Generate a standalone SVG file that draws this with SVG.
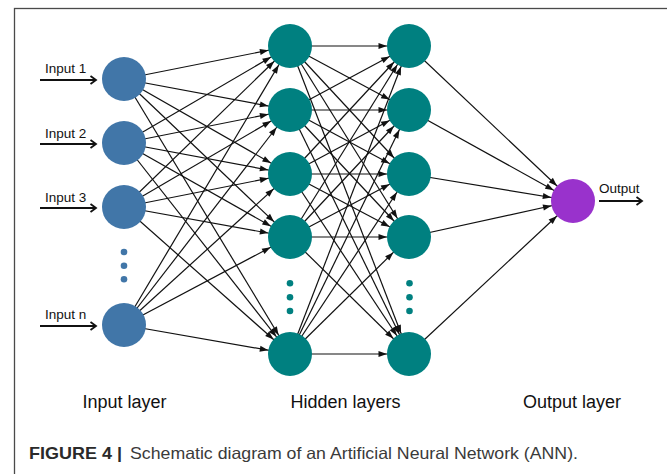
<svg xmlns="http://www.w3.org/2000/svg" width="667" height="474" viewBox="0 0 667 474">
  <style>
    text { font-family: "Liberation Sans", Arial, sans-serif; fill: #111; }
    .io-label { font-size: 13.5px; }
    .layer-label { font-size: 18px; text-anchor: middle; }
    .cap-b { font-size: 16.5px; font-weight: bold; fill: #2a2a2a; }
    .cap { font-size: 16.5px; fill: #3a3a3a; }
    .in { fill: #4176a8; }
    .hid { fill: #008080; }
    .out { fill: #9932cc; }
    .links line { stroke: #111; stroke-width: 1.2; }
    .io-arrow { stroke: #111; stroke-width: 1.8; fill: none; }
  </style>
  <defs>
    <!-- filled head whose tip sits on the edge of a radius-22 node -->
    <marker id="ah" markerUnits="userSpaceOnUse" markerWidth="10" markerHeight="8" refX="22" refY="0" orient="auto" overflow="visible">
      <path d="M0,0 L-8.5,-3 L-8.5,3 Z" fill="#111"/>
    </marker>
    <!-- open chevron head for the input/output arrows -->
    <marker id="chev" markerUnits="userSpaceOnUse" markerWidth="8" markerHeight="10" refX="0" refY="0" orient="auto" overflow="visible">
      <path d="M-5.5,-4 L0,0 L-5.5,4" fill="none" stroke="#111" stroke-width="1.8"/>
    </marker>
  </defs>

  <rect width="667" height="474" fill="#fff"/>
  <!-- figure frame (runs off the right and bottom edges) -->
  <rect x="14.5" y="8.5" width="700" height="520" fill="none" stroke="#4a4a4a" stroke-width="1.3"/>

  <!-- connectors -->
  <g id="connectors" class="links" marker-end="url(#ah)">
    <!-- input layer to first hidden layer -->
    <line x1="124" y1="79" x2="290" y2="46"/>
    <line x1="124" y1="79" x2="290" y2="110"/>
    <line x1="124" y1="79" x2="290" y2="174"/>
    <line x1="124" y1="79" x2="290" y2="237"/>
    <line x1="124" y1="79" x2="290" y2="354"/>
    <line x1="124" y1="143" x2="290" y2="46"/>
    <line x1="124" y1="143" x2="290" y2="110"/>
    <line x1="124" y1="143" x2="290" y2="174"/>
    <line x1="124" y1="143" x2="290" y2="237"/>
    <line x1="124" y1="143" x2="290" y2="354"/>
    <line x1="124" y1="207" x2="290" y2="46"/>
    <line x1="124" y1="207" x2="290" y2="110"/>
    <line x1="124" y1="207" x2="290" y2="174"/>
    <line x1="124" y1="207" x2="290" y2="237"/>
    <line x1="124" y1="207" x2="290" y2="354"/>
    <line x1="124" y1="325" x2="290" y2="46"/>
    <line x1="124" y1="325" x2="290" y2="110"/>
    <line x1="124" y1="325" x2="290" y2="174"/>
    <line x1="124" y1="325" x2="290" y2="237"/>
    <line x1="124" y1="325" x2="290" y2="354"/>
    <!-- first hidden layer to second hidden layer -->
    <line x1="290" y1="46" x2="409" y2="46"/>
    <line x1="290" y1="46" x2="409" y2="110"/>
    <line x1="290" y1="46" x2="409" y2="174"/>
    <line x1="290" y1="46" x2="409" y2="237"/>
    <line x1="290" y1="46" x2="409" y2="354"/>
    <line x1="290" y1="110" x2="409" y2="46"/>
    <line x1="290" y1="110" x2="409" y2="110"/>
    <line x1="290" y1="110" x2="409" y2="174"/>
    <line x1="290" y1="110" x2="409" y2="237"/>
    <line x1="290" y1="110" x2="409" y2="354"/>
    <line x1="290" y1="174" x2="409" y2="46"/>
    <line x1="290" y1="174" x2="409" y2="110"/>
    <line x1="290" y1="174" x2="409" y2="174"/>
    <line x1="290" y1="174" x2="409" y2="237"/>
    <line x1="290" y1="174" x2="409" y2="354"/>
    <line x1="290" y1="237" x2="409" y2="46"/>
    <line x1="290" y1="237" x2="409" y2="110"/>
    <line x1="290" y1="237" x2="409" y2="174"/>
    <line x1="290" y1="237" x2="409" y2="237"/>
    <line x1="290" y1="237" x2="409" y2="354"/>
    <line x1="290" y1="354" x2="409" y2="46"/>
    <line x1="290" y1="354" x2="409" y2="110"/>
    <line x1="290" y1="354" x2="409" y2="174"/>
    <line x1="290" y1="354" x2="409" y2="237"/>
    <line x1="290" y1="354" x2="409" y2="354"/>
    <!-- second hidden layer to output -->
    <line x1="409" y1="46" x2="573" y2="201"/>
    <line x1="409" y1="110" x2="573" y2="201"/>
    <line x1="409" y1="174" x2="573" y2="201"/>
    <line x1="409" y1="237" x2="573" y2="201"/>
    <line x1="409" y1="354" x2="573" y2="201"/>
  </g>

  <!-- external input / output arrows -->
  <g id="io-arrows" class="io-arrow" marker-end="url(#chev)">
    <line x1="40" y1="80" x2="96" y2="80"/>
    <line x1="40" y1="144" x2="96" y2="144"/>
    <line x1="40" y1="208" x2="96" y2="208"/>
    <line x1="40" y1="326" x2="96" y2="326"/>
    <line x1="599" y1="201" x2="642" y2="201"/>
  </g>

  <!-- input layer -->
  <g id="input-1"><circle class="in" cx="124" cy="79" r="22"/><text class="io-label" x="45" y="73">Input 1</text></g>
  <g id="input-2"><circle class="in" cx="124" cy="143" r="22"/><text class="io-label" x="45" y="137.5">Input 2</text></g>
  <g id="input-3"><circle class="in" cx="124" cy="207" r="22"/><text class="io-label" x="45" y="201.5">Input 3</text></g>
  <g id="input-dots" class="in"><circle cx="124" cy="252" r="3.3"/><circle cx="124" cy="265.7" r="3.3"/><circle cx="124" cy="279.3" r="3.3"/></g>
  <g id="input-n"><circle class="in" cx="124" cy="325" r="22"/><text class="io-label" x="45" y="318.5">Input n</text></g>

  <!-- first hidden layer -->
  <g id="h1-1"><circle class="hid" cx="290" cy="46" r="22"/></g>
  <g id="h1-2"><circle class="hid" cx="290" cy="110" r="22"/></g>
  <g id="h1-3"><circle class="hid" cx="290" cy="174" r="22"/></g>
  <g id="h1-4"><circle class="hid" cx="290" cy="237" r="22"/></g>
  <g id="h1-dots" class="hid"><circle cx="290" cy="283.3" r="3.3"/><circle cx="290" cy="297.2" r="3.3"/><circle cx="290" cy="311" r="3.3"/></g>
  <g id="h1-n"><circle class="hid" cx="290" cy="354" r="22"/></g>

  <!-- second hidden layer -->
  <g id="h2-1"><circle class="hid" cx="409" cy="46" r="22"/></g>
  <g id="h2-2"><circle class="hid" cx="409" cy="110" r="22"/></g>
  <g id="h2-3"><circle class="hid" cx="409" cy="174" r="22"/></g>
  <g id="h2-4"><circle class="hid" cx="409" cy="237" r="22"/></g>
  <g id="h2-dots" class="hid"><circle cx="409.5" cy="283.3" r="3.3"/><circle cx="409.5" cy="297.2" r="3.3"/><circle cx="409.5" cy="311" r="3.3"/></g>
  <g id="h2-n"><circle class="hid" cx="409" cy="354" r="22"/></g>

  <!-- output layer -->
  <g id="output"><circle class="out" cx="573" cy="201" r="22"/><text class="io-label" x="599" y="193">Output</text></g>

  <!-- layer captions -->
  <g id="layer-labels">
    <text class="layer-label" x="124.5" y="408.3">Input layer</text>
    <text class="layer-label" x="345.5" y="408.3">Hidden layers</text>
    <text class="layer-label" x="572" y="408.3">Output layer</text>
  </g>

  <!-- figure caption -->
  <text class="cap-b" x="29" y="459" textLength="93" lengthAdjust="spacingAndGlyphs">FIGURE 4 |</text>
  <text class="cap" x="130" y="459" textLength="448" lengthAdjust="spacingAndGlyphs">Schematic diagram of an Artificial Neural Network (ANN).</text>
</svg>
